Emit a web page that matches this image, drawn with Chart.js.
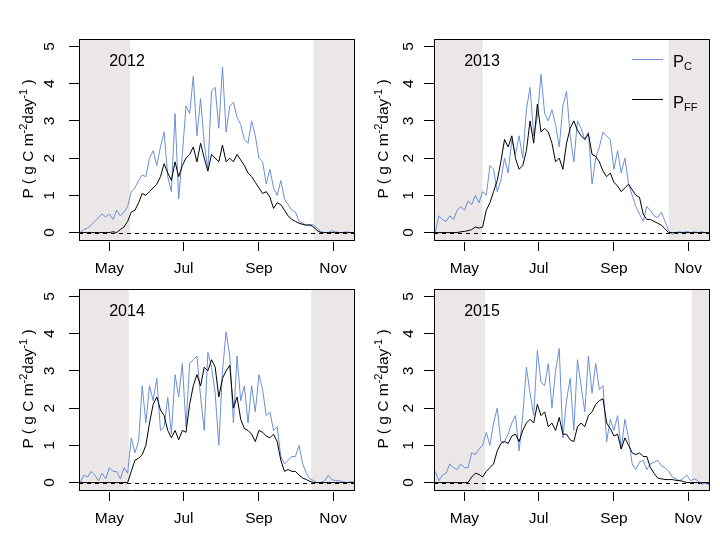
<!DOCTYPE html>
<html>
<head>
<meta charset="utf-8">
<script src="https://cdn.jsdelivr.net/npm/chart.js@4"></script>
<style>
  body { margin: 0; background: #fff; width: 720px; height: 540px; position: relative; overflow: hidden;
         font-family: Arial, "Liberation Sans", sans-serif; color: #000; }
  canvas { position: absolute; }
  .ytitle { position: absolute; white-space: nowrap; font-size: 15.5px; line-height: 15px; height: 15px;
            transform: translate(-50%, -50%) rotate(-90deg); }
  .ytitle sup { font-size: 11px; line-height: 0; vertical-align: 6px; }
  .legline { position: absolute; width: 31px; height: 0; }
  .legtxt { position: absolute; font-size: 16.5px; line-height: 16px; white-space: nowrap; }
  .legtxt sub { font-size: 11px; line-height: 0; vertical-align: -3px; }
</style>
</head>
<body>

<canvas id="c2012" width="360" height="290" style="left:0;top:0"></canvas>
<canvas id="c2013" width="360" height="290" style="left:360px;top:0"></canvas>
<canvas id="c2014" width="360" height="290" style="left:0;top:250px"></canvas>
<canvas id="c2015" width="360" height="290" style="left:360px;top:250px"></canvas>

<div class="ytitle" style="left:27px;top:139px">P ( g C m<sup>-2</sup>day<sup>-1</sup> )</div>
<div class="ytitle" style="left:382px;top:139px">P ( g C m<sup>-2</sup>day<sup>-1</sup> )</div>
<div class="ytitle" style="left:27px;top:389px">P ( g C m<sup>-2</sup>day<sup>-1</sup> )</div>
<div class="ytitle" style="left:382px;top:389px">P ( g C m<sup>-2</sup>day<sup>-1</sup> )</div>

<div class="legline" style="left:632px;top:59px;border-top:1px solid #6b8fd6"></div>
<div class="legtxt" style="left:673px;top:53px">P<sub>C</sub></div>
<div class="legline" style="left:632px;top:99px;border-top:1px solid #000"></div>
<div class="legtxt" style="left:673px;top:94px">P<sub>FF</sub></div>

<script>
// day of year, one value every 3 days
const days = [97,100,103,106,109,112,115,118,121,124,127,130,133,136,139,142,145,148,151,154,
  157,160,163,166,169,172,175,178,181,184,187,190,193,196,199,202,205,208,211,214,
  217,220,223,226,229,232,235,238,241,244,247,250,253,256,259,262,265,268,271,274,
  277,280,283,286,289,292,295,298,301,304,307,310,313,316,319,322];

const tickDays = [121, 182, 244, 305];
const tickLabels = ["May", "Jul", "Sep", "Nov"];
const yTicks = [0, 1, 2, 3, 4, 5];
const years = ["2012", "2013", "2014", "2015"];

// P_C (blue) and P_FF (black), g C m-2 day-1
const pc2012 = [0.0,0.08,0.12,0.2,0.3,0.4,0.5,0.42,0.5,0.35,
  0.6,0.45,0.55,0.7,1.1,1.2,1.4,1.55,1.5,2.0,
  2.2,1.8,2.3,2.7,1.5,1.1,3.2,0.9,2.1,3.4,
  3.2,4.2,2.6,3.6,2.4,1.7,3.8,3.9,2.8,4.45,
  2.7,3.4,3.5,3.1,2.9,2.5,2.4,3.0,2.6,2.0,
  1.9,1.3,1.7,1.2,1.0,1.4,0.9,0.75,0.6,0.55,
  0.3,0.25,0.2,0.22,0.2,0.12,0.02,0.0,0.0,0.05,
  0.02,0.0,0.0,0.02,0.0,0.0];
const pff2012 = [0,0,0,0,0,0,0,0,0,0.02,
  0,0.08,0.15,0.3,0.55,0.6,0.8,1.05,1.0,1.1,
  1.2,1.3,1.5,1.85,1.6,1.4,1.9,1.5,1.8,2.0,
  2.1,2.3,1.9,2.4,2.0,1.65,2.1,2.0,1.9,2.35,
  1.9,2.0,1.9,2.1,1.95,1.8,1.6,1.5,1.35,1.2,
  1.05,1.1,0.95,0.65,0.8,0.75,0.6,0.45,0.35,0.3,
  0.25,0.22,0.2,0.2,0.15,0.05,0,0,0,0,
  0,0,0,0,0,0];

const pc2013 = [0.0,0.45,0.35,0.3,0.45,0.35,0.6,0.7,0.6,0.85,
  0.75,1.0,0.8,1.1,1.0,1.8,1.7,1.1,1.4,2.0,
  1.6,2.5,2.1,2.6,2.0,3.3,3.9,2.6,3.1,4.25,
  3.2,3.0,3.3,2.9,2.3,3.4,3.8,2.6,1.9,3.0,
  2.8,2.5,2.7,1.3,2.0,2.3,2.7,2.6,2.5,1.7,
  2.2,1.6,2.0,1.3,1.0,0.7,0.5,0.3,0.7,0.6,
  0.45,0.4,0.55,0.3,0.05,-0.05,0.0,0.02,0.0,0.03,
  0.0,0.02,0.0,0.02,0.0,0.0];
const pff2013 = [0,0,0,0,0,0,0,0.02,0.03,0.05,
  0.08,0.15,0.12,0.15,0.6,0.8,1.1,1.4,1.9,2.5,
  2.3,2.6,2.0,1.7,1.8,2.2,3.0,2.4,3.45,2.7,
  2.8,2.7,2.4,1.9,2.0,1.7,2.4,2.8,3.0,2.75,
  2.6,2.5,2.65,2.1,2.05,1.9,1.65,1.5,1.6,1.35,
  1.25,1.1,1.2,1.3,1.15,1.0,0.95,0.5,0.35,0.35,
  0.3,0.25,0.2,0.1,0,0,0,0,0,0,
  0,0,0,0,0,0];

const pc2014 = [0.0,0.2,0.15,0.3,0.2,0.05,0.25,0.1,0.4,0.3,
  0.3,0.1,0.4,0.25,1.2,0.8,1.1,2.6,1.6,2.6,
  2.2,2.8,1.4,1.5,2.3,1.3,2.9,2.3,3.2,1.5,
  3.2,3.3,3.4,2.3,1.4,3.5,3.1,2.4,1.0,3.0,
  4.05,3.4,1.6,3.4,2.2,2.6,1.6,2.6,1.9,2.9,
  2.5,1.8,1.9,1.4,1.5,0.7,0.5,0.6,0.7,0.7,
  1.0,0.5,0.25,0.1,0.05,0.0,0.0,0.05,0.2,0.08,
  0.05,0.05,0.02,0.0,0.02,0.02];
const pff2014 = [0,0,0,0,0,0,0,0,0,0,
  0,0,0,0,0.3,0.6,0.65,0.75,1.0,1.6,
  2.1,2.3,1.95,1.8,1.4,1.2,1.4,1.15,1.4,1.35,
  2.1,2.6,2.9,2.6,3.1,3.0,3.3,3.1,2.3,2.8,
  3.0,3.15,2.0,2.3,1.7,1.45,1.4,1.3,1.1,1.4,
  1.35,1.25,1.2,1.3,1.1,0.6,0.3,0.35,0.3,0.3,
  0.2,0.12,0.08,0.03,0,0,0,0,0,0,
  0,0,0,0,0,0];

const pc2015 = [0.3,0.05,0.2,0.25,0.5,0.4,0.35,0.5,0.4,0.4,
  0.8,0.75,0.9,1.0,1.35,1.0,1.6,2.0,1.1,1.1,
  1.3,1.6,1.8,0.85,1.8,3.1,2.4,1.8,3.55,2.7,
  2.6,3.2,2.0,3.0,3.6,1.2,2.2,2.8,1.4,3.3,
  2.6,1.9,3.4,2.4,3.2,2.5,2.6,1.1,1.7,1.4,
  1.8,0.9,1.7,1.2,0.5,0.35,0.55,0.6,0.35,0.5,
  0.55,0.6,0.45,0.4,0.3,0.15,0.1,0.05,0.12,0.2,
  0.05,0.1,0.05,-0.05,-0.02,-0.05];
const pff2015 = [0,0,0,0,0,0,0,0,0,0,
  0.15,0.25,0.22,0.15,0.3,0.4,0.5,0.85,1.05,1.1,
  1.05,1.25,1.3,1.1,1.4,1.6,1.7,1.6,2.1,1.8,
  1.9,1.5,1.6,1.4,1.75,1.3,1.3,1.15,1.1,1.5,
  1.6,1.5,1.8,1.9,2.1,2.2,2.25,1.6,1.45,1.25,
  1.3,0.9,1.2,1.0,0.8,0.75,0.8,0.7,0.7,0.4,
  0.25,0.12,0.1,0.08,0.08,0.08,0.06,0.05,0.03,0,
  0,0,0,0,0,0];

// shaded periods: before / after these days
const shade2012 = [138, 289];
const shade2013 = [136, 289];
const shade2014 = [137, 287];
const shade2015 = [138, 308];

const FONT = 'Arial, "Liberation Sans", sans-serif';

/* ---------- R-like drawing bits ---------- */

const rStyle = {
  id: 'rStyle',
  beforeDatasetsDraw(chart, args, opts) {
    const { ctx, chartArea: a, scales: { x, y } } = chart;
    ctx.save();
    ctx.fillStyle = '#ebe7e7';
    const x1 = x.getPixelForValue(opts.shade[0]);
    const x2 = x.getPixelForValue(opts.shade[1]);
    ctx.fillRect(a.left, a.top, x1 - a.left, a.height);
    ctx.fillRect(x2, a.top, a.right - x2, a.height);

    // dashed zero line
    const y0 = Math.round(y.getPixelForValue(0)) + 0.5;
    ctx.strokeStyle = '#000';
    ctx.lineWidth = 1;
    ctx.setLineDash([4, 4]);
    ctx.beginPath();
    ctx.moveTo(a.left, y0);
    ctx.lineTo(a.right, y0);
    ctx.stroke();
    ctx.restore();
  },
  afterDraw(chart, args, opts) {
    const { ctx, chartArea: a, scales: { y } } = chart;
    ctx.save();
    ctx.strokeStyle = '#000';
    ctx.lineWidth = 1;
    ctx.strokeRect(Math.round(a.left) + 0.5, Math.round(a.top) + 0.5,
      Math.round(a.width) - 1, Math.round(a.height));

    // rotated y tick labels
    ctx.fillStyle = '#000';
    ctx.font = '15.5px ' + FONT;
    ctx.textAlign = 'center';
    ctx.textBaseline = 'alphabetic';
    yTicks.forEach(v => {
      ctx.save();
      ctx.translate(a.left - opts.labelOff + 5.5, y.getPixelForValue(v));
      ctx.rotate(-Math.PI / 2);
      ctx.fillText(String(v), 0, 0);
      ctx.restore();
    });

    // year
    ctx.font = '16px ' + FONT;
    ctx.fillText(opts.year, a.left + 48, a.top + 27);
    ctx.restore();
  }
};

function makePanel(id, year, pc, pff, shade, yWidth, padRight, labelOff) {
  new Chart(document.getElementById(id), {
    type: 'line',
    data: {
      datasets: [
        {
          label: 'PFF',
          data: days.map((d, i) => ({ x: d, y: pff[i] })),
          borderColor: '#000000',
          borderWidth: 1,
          pointRadius: 0,
          tension: 0,
          order: 0
        },
        {
          label: 'PC',
          data: days.map((d, i) => ({ x: d, y: pc[i] })),
          borderColor: '#6b8fd6',
          borderWidth: 1,
          pointRadius: 0,
          tension: 0,
          order: 1
        }
      ]
    },
    options: {
      responsive: false,
      animation: false,
      devicePixelRatio: 1,
      events: [],
      layout: { padding: { left: 0, top: 39, right: padRight, bottom: 0 } },
      plugins: {
        legend: { display: false },
        tooltip: { enabled: false },
        rStyle: { shade: shade, year: year, labelOff: labelOff }
      },
      scales: {
        x: {
          type: 'linear',
          min: 96,
          max: 323,
          afterBuildTicks: s => { s.ticks = tickDays.map(v => ({ value: v })); },
          afterFit: s => { s.height = 50; },
          border: { display: false },
          grid: {
            drawOnChartArea: false,
            drawTicks: true,
            tickLength: 11,
            tickColor: '#000',
            tickWidth: 1,
            tickBorderDash: [0, 2, 9, 20]
          },
          ticks: {
            autoSkip: false,
            maxRotation: 0,
            padding: 8,
            color: '#000',
            font: { family: FONT, size: 15.5 },
            callback: v => tickLabels[tickDays.indexOf(v)]
          }
        },
        y: {
          min: -0.2,
          max: 5.2,
          afterBuildTicks: s => { s.ticks = yTicks.map(v => ({ value: v })); },
          afterFit: s => { s.width = yWidth; },
          border: { display: false },
          grid: {
            drawOnChartArea: false,
            drawTicks: true,
            tickLength: 10,
            tickColor: '#000',
            tickWidth: 1
          },
          ticks: { display: false }
        }
      }
    },
    plugins: [rStyle]
  });
}

makePanel('c2012', years[0], pc2012, pff2012, shade2012, 79, 5, 31);
makePanel('c2013', years[1], pc2013, pff2013, shade2013, 74, 10, 27);
makePanel('c2014', years[2], pc2014, pff2014, shade2014, 79, 5, 31);
makePanel('c2015', years[3], pc2015, pff2015, shade2015, 74, 10, 27);
</script>
</body>
</html>
